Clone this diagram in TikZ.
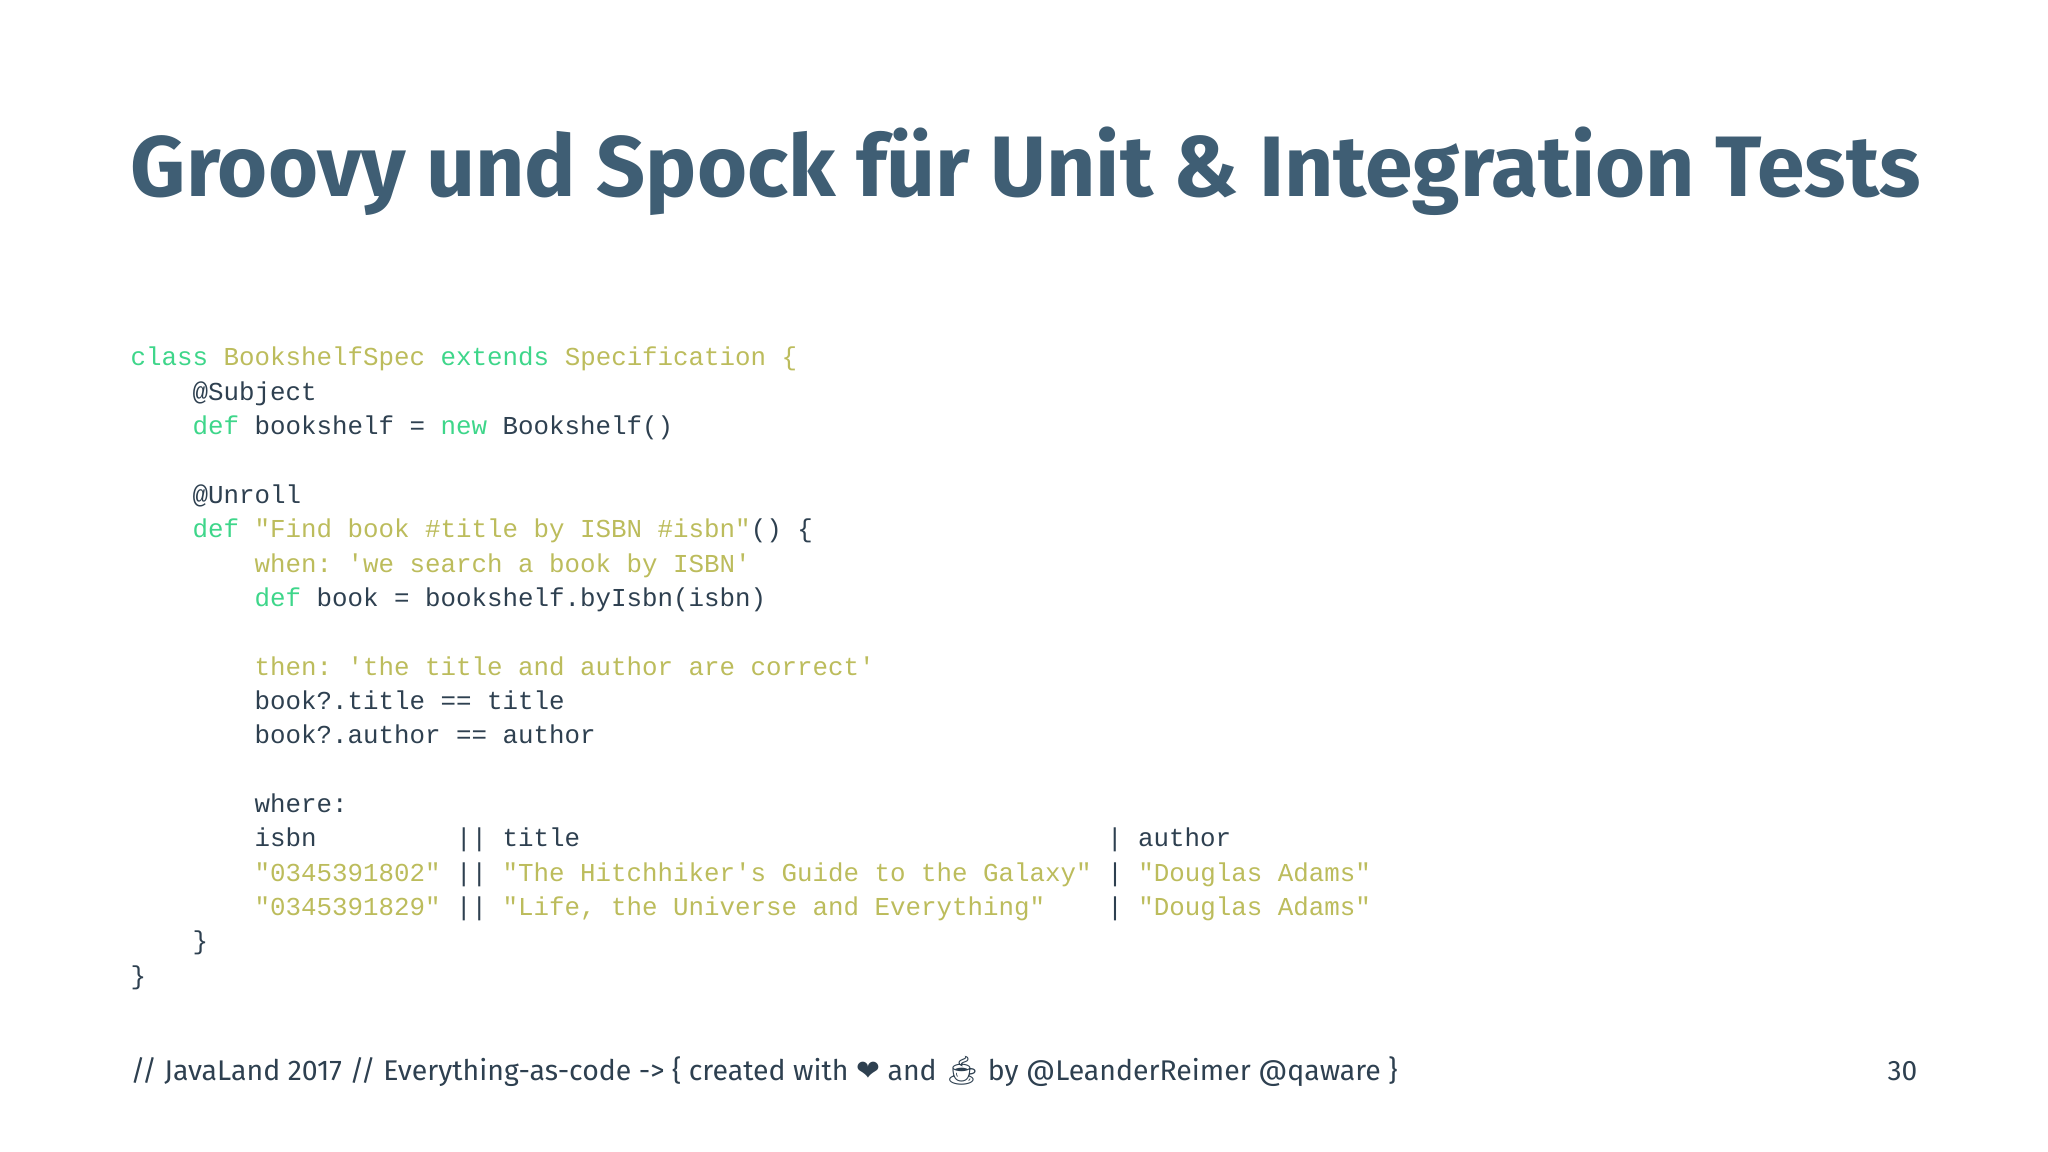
\documentclass[tikz,border=0pt]{standalone}
\usepackage{fontspec}
\setmonofont{Liberation Mono}
\setsansfont{Fira Sans}
\newfontfamily\emo{Noto Emoji}
\newfontfamily\djv{DejaVu Sans}
\definecolor{kw}{HTML}{3ED68A}
\definecolor{st}{HTML}{BCBC5C}
\definecolor{tx}{HTML}{2E4050}
\definecolor{ti}{HTML}{3F5E74}
\newcommand\K[1]{\textcolor{kw}{#1}}
\newcommand\Q[1]{\textcolor{st}{#1}}
\newcommand\SP[1]{\hspace*{#1\dimexpr 4.41pt\relax}}
\begin{document}
\begin{tikzpicture}[x=1cm,y=1cm,
  code/.style={anchor=base west,inner sep=0pt,text=tx,font=\ttfamily\fontsize{7.35}{9}\selectfont}]
\useasboundingbox (0,0) rectangle (20.48,11.52);
\node[anchor=base west,inner sep=0pt,text=ti] (title) at (1.30,9.55)
  {\resizebox{17.9cm}{!}{\sffamily\bfseries Groovy und Spock für Unit \& Integration Tests}};
\def\ly#1{11.52-3.66-0.3435*#1}
\node[code] (l0) at (1.30,{\ly{0}}) {\K{class} \Q{BookshelfSpec} \K{extends} \Q{Specification \{}};
\node[code] (l1) at (1.30,{\ly{1}}) {\SP{4}@Subject};
\node[code] (l2) at (1.30,{\ly{2}}) {\SP{4}\K{def} bookshelf = \K{new} Bookshelf()};
\node[code] (l4) at (1.30,{\ly{4}}) {\SP{4}@Unroll};
\node[code] (l5) at (1.30,{\ly{5}}) {\SP{4}\K{def} \Q{"Find book \#title by ISBN \#isbn"}() \{};
\node[code] (l6) at (1.30,{\ly{6}}) {\SP{8}\Q{when: 'we search a book by ISBN'}};
\node[code] (l7) at (1.30,{\ly{7}}) {\SP{8}\K{def} book = bookshelf.byIsbn(isbn)};
\node[code] (l9) at (1.30,{\ly{9}}) {\SP{8}\Q{then: 'the title and author are correct'}};
\node[code] (l10) at (1.30,{\ly{10}}) {\SP{8}book?.title == title};
\node[code] (l11) at (1.30,{\ly{11}}) {\SP{8}book?.author == author};
\node[code] (l13) at (1.30,{\ly{13}}) {\SP{8}where:};
\node[code] (l14) at (1.30,{\ly{14}}) {\SP{8}isbn\SP{9}|| title\SP{34}| author};
\node[code] (l15) at (1.30,{\ly{15}}) {\SP{8}\Q{"0345391802"} || \Q{"The Hitchhiker's Guide to the Galaxy"} | \Q{"Douglas Adams"}};
\node[code] (l16) at (1.30,{\ly{16}}) {\SP{8}\Q{"0345391829"} || \Q{"Life, the Universe and Everything"}\SP{4}| \Q{"Douglas Adams"}};
\node[code] (l17) at (1.30,{\ly{17}}) {\SP{4}\}};
\node[code] (l18) at (1.30,{\ly{18}}) {\}};
\node[anchor=base west,inner sep=0pt,text=tx] (foot) at (1.30,0.715)
  {\resizebox{12.67cm}{!}{\sffamily // JavaLand 2017 // Everything-as-code -> \{ created with {\djv ❤} and {\emo ☕} by @LeanderReimer @qaware \}}};
\node[anchor=base east,inner sep=0pt,text=tx,font=\sffamily\fontsize{8}{9}\selectfont] (pg) at (19.18,0.715) {30};
\end{tikzpicture}
\end{document}
